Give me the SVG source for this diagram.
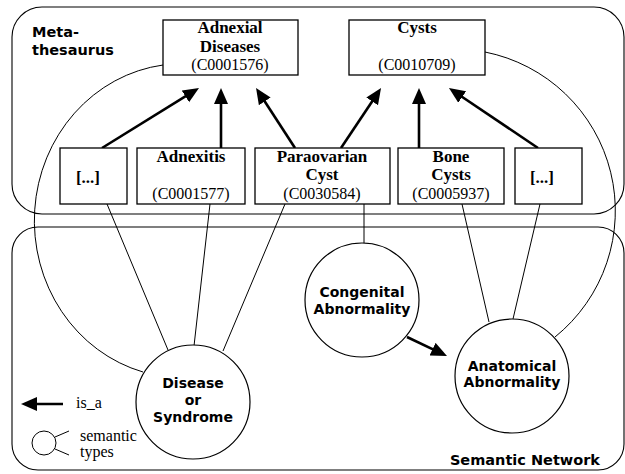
<svg xmlns="http://www.w3.org/2000/svg" width="625" height="474" viewBox="0 0 625 474">
<defs>
<style>
.panel{fill:none;stroke:#000;stroke-width:1.1}
.box{fill:#fff;stroke:#000;stroke-width:1.3}
.circ{fill:#fff;stroke:#000;stroke-width:1.2}
.ln{fill:none;stroke:#000;stroke-width:1}
.arr{fill:none;stroke:#000;stroke-width:2.6;marker-end:url(#ah)}
.sb{font-family:"DejaVu Sans",sans-serif;font-weight:bold;font-size:14px;fill:#000}
.tb{font-family:"Liberation Serif",serif;font-weight:bold;font-size:17px;fill:#000;text-anchor:middle}
.tr{font-family:"Liberation Serif",serif;font-size:16px;fill:#000}
.mid{text-anchor:middle}
</style>
<marker id="ah" markerUnits="userSpaceOnUse" markerWidth="18" markerHeight="16" refX="8" refY="7" orient="auto">
<path d="M0,0 L16,7 L0,14 Z" fill="#000"/>
</marker>
</defs>
<rect id="metathesaurus-panel" class="panel" x="12" y="7" width="612" height="207" rx="30" ry="30"/>
<rect id="semantic-panel" class="panel" x="12" y="227" width="612" height="243" rx="26" ry="26"/>
<g id="connectors">
<path class="ln" d="M163,65 A148,157 0 0 0 143,372"/>
<path class="ln" d="M485,52 A162,162 0 0 1 555,337"/>
<line class="ln" x1="107" y1="204" x2="168" y2="350"/>
<line class="ln" x1="210" y1="204" x2="194" y2="346"/>
<line class="ln" x1="285" y1="204" x2="223" y2="351"/>
<line class="ln" x1="364" y1="204" x2="364" y2="243"/>
<line class="ln" x1="462" y1="204" x2="489" y2="322"/>
<line class="ln" x1="540" y1="204" x2="513" y2="319"/>
<line class="arr" x1="102" y1="148" x2="192.2" y2="92.2"/>
<line class="arr" x1="221" y1="148" x2="221" y2="96"/>
<line class="arr" x1="295" y1="148" x2="260.4" y2="94.7"/>
<line class="arr" x1="341" y1="148" x2="376.6" y2="94.7"/>
<line class="arr" x1="419" y1="148" x2="419" y2="96"/>
<line class="arr" x1="538" y1="148" x2="455.6" y2="92.5"/>
<line class="arr" x1="407" y1="337" x2="439.8" y2="352.6"/>
</g>
<text class="sb" x="32" y="37" style="font-size:14.5px">Meta-</text>
<text class="sb" x="32" y="55" style="font-size:14.5px">thesaurus</text>
<g id="adnexial-diseases">
<rect class="box" x="163" y="20" width="135" height="55"/>
<text class="tb" x="230" y="33">Adnexial</text>
<text class="tb" x="230" y="52">Diseases</text>
<text class="tr mid" x="230" y="70">(C0001576)</text>
</g>
<g id="cysts">
<rect class="box" x="349" y="20" width="136" height="55"/>
<text class="tb" x="417" y="33">Cysts</text>
<text class="tr mid" x="417" y="70">(C0010709)</text>
</g>
<g id="other-left">
<rect class="box" x="60" y="148" width="67" height="56"/>
<text class="tb" x="88" y="183">[...]</text>
</g>
<g id="adnexitis">
<rect class="box" x="137" y="148" width="108" height="56"/>
<text class="tb" x="191" y="162">Adnexitis</text>
<text class="tr mid" x="191" y="199">(C0001577)</text>
</g>
<g id="paraovarian-cyst">
<rect class="box" x="255" y="148" width="135" height="56"/>
<text class="tb" x="322" y="162">Paraovarian</text>
<text class="tb" x="322" y="180">Cyst</text>
<text class="tr mid" x="322" y="199">(C0030584)</text>
</g>
<g id="bone-cysts">
<rect class="box" x="398" y="148" width="106" height="56"/>
<text class="tb" x="451" y="162">Bone</text>
<text class="tb" x="451" y="180">Cysts</text>
<text class="tr mid" x="451" y="199">(C0005937)</text>
</g>
<g id="other-right">
<rect class="box" x="515" y="148" width="67" height="56"/>
<text class="tb" x="542" y="183">[...]</text>
</g>
<g id="disease-or-syndrome">
<circle class="circ" cx="193" cy="402" r="57"/>
<text class="sb mid" x="193" y="388">Disease</text>
<text class="sb mid" x="193" y="405">or</text>
<text class="sb mid" x="193" y="422">Syndrome</text>
</g>
<g id="congenital-abnormality">
<circle class="circ" cx="362" cy="300" r="57"/>
<text class="sb mid" x="362" y="297">Congenital</text>
<text class="sb mid" x="362" y="314">Abnormality</text>
</g>
<g id="anatomical-abnormality">
<circle class="circ" cx="512" cy="376" r="57"/>
<text class="sb mid" x="512" y="371">Anatomical</text>
<text class="sb mid" x="512" y="387">Abnormality</text>
</g>
<g id="legend">
<line class="arr" x1="63" y1="404" x2="29" y2="404"/>
<text class="tr" x="76" y="408">is_a</text>
<circle class="ln" cx="44" cy="443" r="12"/>
<line class="ln" x1="55" y1="437" x2="69" y2="431"/>
<line class="ln" x1="55" y1="449" x2="69" y2="455"/>
<text class="tr" x="80" y="441">semantic</text>
<text class="tr" x="80" y="457">types</text>
</g>
<text class="sb" x="600" y="465" text-anchor="end" style="font-size:14.5px">Semantic Network</text>
</svg>
